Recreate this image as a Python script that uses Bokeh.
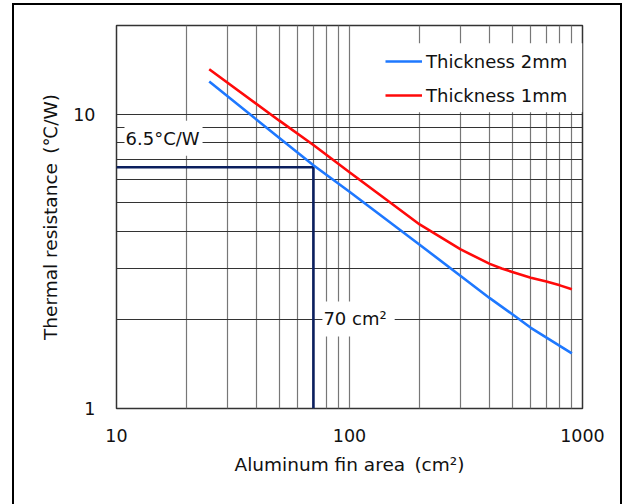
from bokeh.plotting import figure
from bokeh.models import (FixedTicker, PrintfTickFormatter, Label, BoxAnnotation,
                          Legend, LegendItem, Range1d)
from bokeh.embed import file_html
from bokeh.resources import INLINE

# ---- data ----
area_2mm = [25, 50, 70, 100, 200, 300, 400, 500, 600, 900]
res_2mm = [12.9, 8.3, 6.7, 5.45, 3.6, 2.82, 2.37, 2.09, 1.88, 1.54]

area_1mm = [25, 50, 70, 100, 150, 200, 300, 400, 450, 500, 600, 700, 800, 900]
res_1mm = [14.2, 9.5, 7.85, 6.35, 5.0, 4.22, 3.47, 3.1, 2.99, 2.91, 2.78, 2.70, 2.62, 2.54]

x_major = [10, 100, 1000]
x_minor = [20, 30, 40, 50, 60, 70, 80, 90, 200, 300, 400, 500, 600, 700, 800, 900]
y_major = [1, 10]
y_minor = [2, 3, 4, 5, 6, 7, 8, 9]

x_start, x_end = 10, 1000
y_start, y_end = 1, 20

mark_area = 70
mark_res = 6.6
mark_res_text = "6.5°C/W"
mark_area_text = "70 cm²"

series_names = ["Thickness 2mm", "Thickness 1mm"]
x_title = "Aluminum fin area\u2002(cm²)"
y_title = "Thermal resistance\u2002(\u2103/W)"

FONT = "DejaVu Sans"
BLUE = "#1e78ff"
RED = "#ff0a0a"
NAVY = "#0b1f5e"

# outer frame of the picture drawn as the page element's background
border_css = ("linear-gradient(#000,#000) 12px 3px / 2px 540px no-repeat, "
              "linear-gradient(#000,#000) 12px 3px / 610px 2px no-repeat, "
              "linear-gradient(#000,#000) 620px 3px / 2px 540px no-repeat, "
              "#ffffff")

p = figure(width=630, height=504, x_axis_type="log", y_axis_type="log",
           x_range=Range1d(x_start, x_end), y_range=Range1d(y_start, y_end),
           output_backend="svg", toolbar_location=None,
           min_border_left=116, min_border_right=48,
           min_border_top=25, min_border_bottom=96,
           styles={"background": border_css})
p.background_fill_color = "white"
p.border_fill_color = "white"
p.border_fill_alpha = 0
p.outline_line_color = "#333333"
p.outline_line_width = 1.5

# axes
p.xaxis.ticker = FixedTicker(ticks=x_major, minor_ticks=x_minor)
p.yaxis.ticker = FixedTicker(ticks=y_major, minor_ticks=y_minor)
for ax in (p.xaxis[0], p.yaxis[0]):
    ax.formatter = PrintfTickFormatter(format="%d")
    ax.axis_line_color = None
    ax.major_tick_line_color = None
    ax.minor_tick_line_color = None
    ax.major_tick_out = 0
    ax.major_tick_in = 0
    ax.minor_tick_out = 0
    ax.minor_tick_in = 0
    ax.major_label_text_font = FONT
    ax.major_label_text_font_size = "17.5px"
    ax.major_label_text_color = "#111111"
    ax.axis_label_text_font = FONT
    ax.axis_label_text_font_size = "18.5px"
    ax.axis_label_text_font_style = "normal"
    ax.axis_label_text_color = "#111111"

p.xaxis.axis_label = x_title
p.yaxis.axis_label = y_title
p.xaxis.major_label_standoff = 20
p.xaxis.axis_label_standoff = 9
p.yaxis.major_label_standoff = 21
p.yaxis.axis_label_standoff = 9

# grids
p.xgrid.grid_line_color = "#777777"
p.xgrid.grid_line_width = 1.2
p.xgrid.minor_grid_line_color = "#777777"
p.xgrid.minor_grid_line_width = 1.2
p.ygrid.grid_line_color = "#333333"
p.ygrid.grid_line_width = 1.2
p.ygrid.minor_grid_line_color = "#333333"
p.ygrid.minor_grid_line_width = 1.2

# marker lines (70 cm^2 -> 6.5 C/W)
p.line([x_start, mark_area, mark_area], [mark_res, mark_res, y_start],
       line_color=NAVY, line_width=2.6)

# curves
r2 = p.line(area_2mm, res_2mm, line_color=BLUE, line_width=2.6)
r1 = p.line(area_1mm, res_1mm, line_color=RED, line_width=2.6)

# annotation labels with white background
lab1 = Label(x=x_start, y=mark_res, x_offset=8, y_offset=29, text=mark_res_text,
             text_font=FONT, text_font_size="18px", text_color="#111111",
             text_baseline="middle", text_align="left",
             background_fill_color="white", background_fill_alpha=1.0,
             padding=dict(left=1, right=3, top=7, bottom=7))
p.add_layout(lab1)
lab2 = Label(x=mark_area, y=2, x_offset=9, y_offset=1, text=mark_area_text,
             text_font=FONT, text_font_size="18px", text_color="#111111",
             text_baseline="middle", text_align="left",
             background_fill_color="white", background_fill_alpha=1.0,
             padding=dict(left=1, right=8, top=7, bottom=7))
p.add_layout(lab2)

# legend background panel
p.add_layout(BoxAnnotation(left=102, right=x_end, bottom=10.15, top=17.4,
                           fill_color="white", fill_alpha=1.0, line_alpha=0))

legend = Legend(items=[LegendItem(label=series_names[0], renderers=[r2]),
                       LegendItem(label=series_names[1], renderers=[r1])],
                location=(269, 296), orientation="vertical",
                padding=0, margin=0, spacing=0,
                glyph_width=37, glyph_height=34, label_height=34,
                label_standoff=4,
                label_text_font=FONT, label_text_font_size="18px",
                label_text_color="#111111",
                background_fill_alpha=0, border_line_alpha=0)
p.add_layout(legend)

open("out.html", "w").write(file_html(p, INLINE))
